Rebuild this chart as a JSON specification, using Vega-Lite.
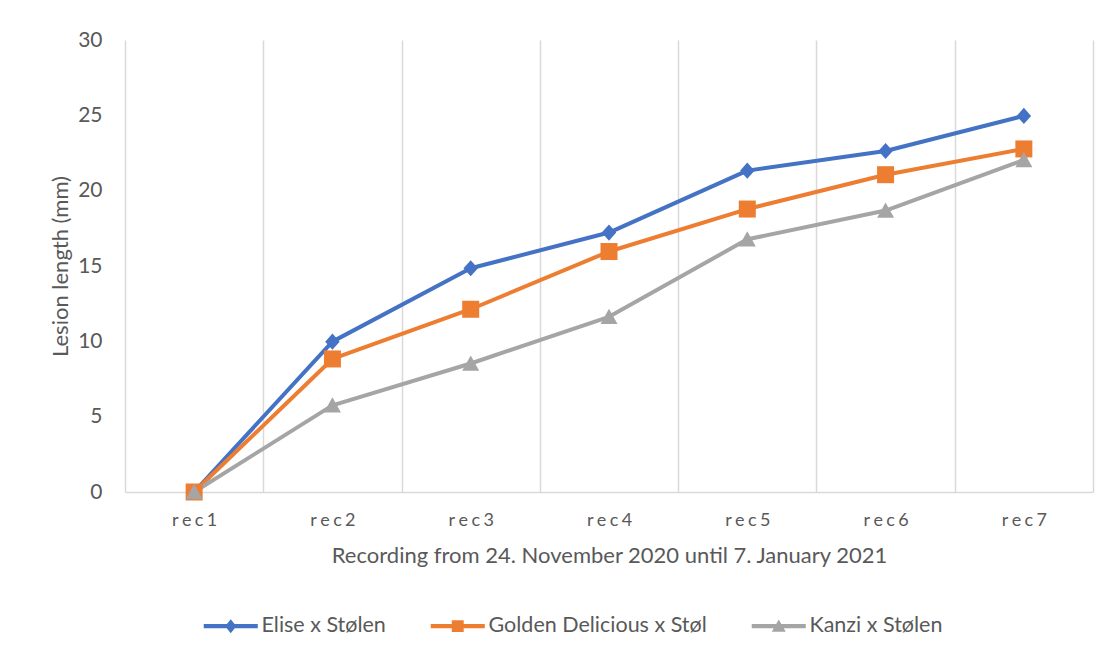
{
  "$schema": "https://vega.github.io/schema/vega-lite/v6.json",
  "autosize": {"type": "none"},
  "width": 968,
  "height": 452,
  "padding": {"left": 125, "top": 40, "right": 14, "bottom": 165},
  "background": "white",
  "config": {
    "view": {"stroke": null},
    "font": "Lato",
    "axis": {"labelColor": "#595959", "titleColor": "#595959", "titleFontWeight": "normal", "labelFont": "Lato", "titleFont": "Lato"},
    "legend": {"labelColor": "#595959", "labelFont": "Lato"}
  },
  "data": {
    "values": [
      {"rec": "rec1", "series": "Elise x Stølen", "length": 0},
      {"rec": "rec2", "series": "Elise x Stølen", "length": 9.98},
      {"rec": "rec3", "series": "Elise x Stølen", "length": 14.85},
      {"rec": "rec4", "series": "Elise x Stølen", "length": 17.22},
      {"rec": "rec5", "series": "Elise x Stølen", "length": 21.33},
      {"rec": "rec6", "series": "Elise x Stølen", "length": 22.63},
      {"rec": "rec7", "series": "Elise x Stølen", "length": 24.96},
      {"rec": "rec1", "series": "Golden Delicious x Støl", "length": 0},
      {"rec": "rec2", "series": "Golden Delicious x Støl", "length": 8.83},
      {"rec": "rec3", "series": "Golden Delicious x Støl", "length": 12.13},
      {"rec": "rec4", "series": "Golden Delicious x Støl", "length": 15.96},
      {"rec": "rec5", "series": "Golden Delicious x Støl", "length": 18.78},
      {"rec": "rec6", "series": "Golden Delicious x Støl", "length": 21.06},
      {"rec": "rec7", "series": "Golden Delicious x Støl", "length": 22.77},
      {"rec": "rec1", "series": "Kanzi x Stølen", "length": 0},
      {"rec": "rec2", "series": "Kanzi x Stølen", "length": 5.75},
      {"rec": "rec3", "series": "Kanzi x Stølen", "length": 8.53},
      {"rec": "rec4", "series": "Kanzi x Stølen", "length": 11.63},
      {"rec": "rec5", "series": "Kanzi x Stølen", "length": 16.77},
      {"rec": "rec6", "series": "Kanzi x Stølen", "length": 18.68},
      {"rec": "rec7", "series": "Kanzi x Stølen", "length": 22.04}
    ]
  },
  "encoding": {
    "x": {
      "field": "rec",
      "type": "nominal",
      "sort": null,
      "scale": {"type": "band", "paddingInner": 0, "paddingOuter": 0},
      "axis": {
        "title": "Recording from 24. November 2020 until 7. January 2021",
        "labelAngle": 0,
        "labelFontSize": 18,
        "labelPadding": 19,
        "labelExpr": "isString(datum.value) ? 'r\u2009\u200ae\u2009\u200ac\u2009\u200a' + substring(datum.value, 3) : ''",
        "titleFontSize": 22,
        "titlePadding": 16,
        "ticks": false,
        "tickBand": "extent",
        "grid": true,
        "gridColor": "#d9d9d9",
        "gridWidth": 1.5,
        "domainColor": "#d9d9d9",
        "domainWidth": 1.5
      }
    },
    "y": {
      "field": "length",
      "type": "quantitative",
      "scale": {"domain": [0, 30], "nice": false, "zero": true},
      "axis": {
        "title": "Lesion length (mm)",
        "values": [0, 5, 10, 15, 20, 25, 30],
        "labelFontSize": 21,
        "labelPadding": 23,
        "titleFontSize": 22,
        "titlePadding": 5,
        "ticks": false,
        "tickSize": 0,
        "domain": false,
        "grid": false
      }
    }
  },
  "layer": [
    {
      "mark": {"type": "line", "strokeWidth": 4, "strokeJoin": "round"},
      "encoding": {
        "color": {
          "field": "series",
          "type": "nominal",
          "scale": {"domain": ["Elise x Stølen", "Golden Delicious x Støl", "Kanzi x Stølen"], "range": ["#4472C4", "#ED7D31", "#A5A5A5"]},
          "legend": null
        }
      }
    },
    {
      "mark": {"type": "point", "filled": true, "opacity": 1, "size": 289, "strokeWidth": 0},
      "encoding": {
        "color": {
          "field": "series",
          "type": "nominal",
          "scale": {"domain": ["Elise x Stølen", "Golden Delicious x Støl", "Kanzi x Stølen"], "range": ["#4472C4", "#ED7D31", "#A5A5A5"]},
          "legend": null
        },
        "shape": {
          "field": "series",
          "type": "nominal",
          "scale": {
            "domain": ["Elise x Stølen", "Golden Delicious x Støl", "Kanzi x Stølen"],
            "range": ["M-0.85,0L0,-0.95L0.85,0L0,0.95Z", "M-1,-1H1V1H-1Z", "M-1,0.85L0,-0.95L1,0.85Z"]
          },
          "legend": null
        }
      }
    },
    {
      "transform": [{"filter": "false"}],
      "mark": {"type": "point", "filled": true, "opacity": 1, "size": 196, "strokeWidth": 0},
      "encoding": {
        "color": {
          "field": "series",
          "type": "nominal",
          "scale": {"domain": ["Elise x Stølen", "Golden Delicious x Støl", "Kanzi x Stølen"], "range": ["#4472C4", "#ED7D31", "#A5A5A5"]},
          "legend": {
            "title": null,
            "orient": "none",
            "direction": "horizontal",
            "legendX": 95,
            "legendY": 575,
            "labelFontSize": 21.5,
            "labelOffset": 20,
            "labelLimit": 400,
            "columnPadding": 44,
            "symbolSize": 196,
            "symbolStrokeWidth": 0
          }
        },
        "shape": {
          "field": "series",
          "type": "nominal",
          "scale": {
            "domain": ["Elise x Stølen", "Golden Delicious x Støl", "Kanzi x Stølen"],
            "range": [
              "M-3.86,-0.29H3.86V0.29H-3.86Z M-0.8,0L0,-1L0.8,0L0,1Z",
              "M-3.86,-0.29H3.86V0.29H-3.86Z M-0.85,-0.85H0.85V0.85H-0.85Z",
              "M-3.86,-0.29H3.86V0.29H-3.86Z M-1,0.8L0,-0.95L1,0.8Z"
            ]
          },
          "legend": {
            "title": null,
            "orient": "none",
            "direction": "horizontal",
            "legendX": 95,
            "legendY": 575,
            "labelFontSize": 21.5,
            "labelOffset": 20,
            "labelLimit": 400,
            "columnPadding": 44,
            "symbolSize": 196,
            "symbolStrokeWidth": 0
          }
        }
      }
    }
  ],
  "resolve": {"scale": {"color": "independent", "shape": "independent"}}
}
